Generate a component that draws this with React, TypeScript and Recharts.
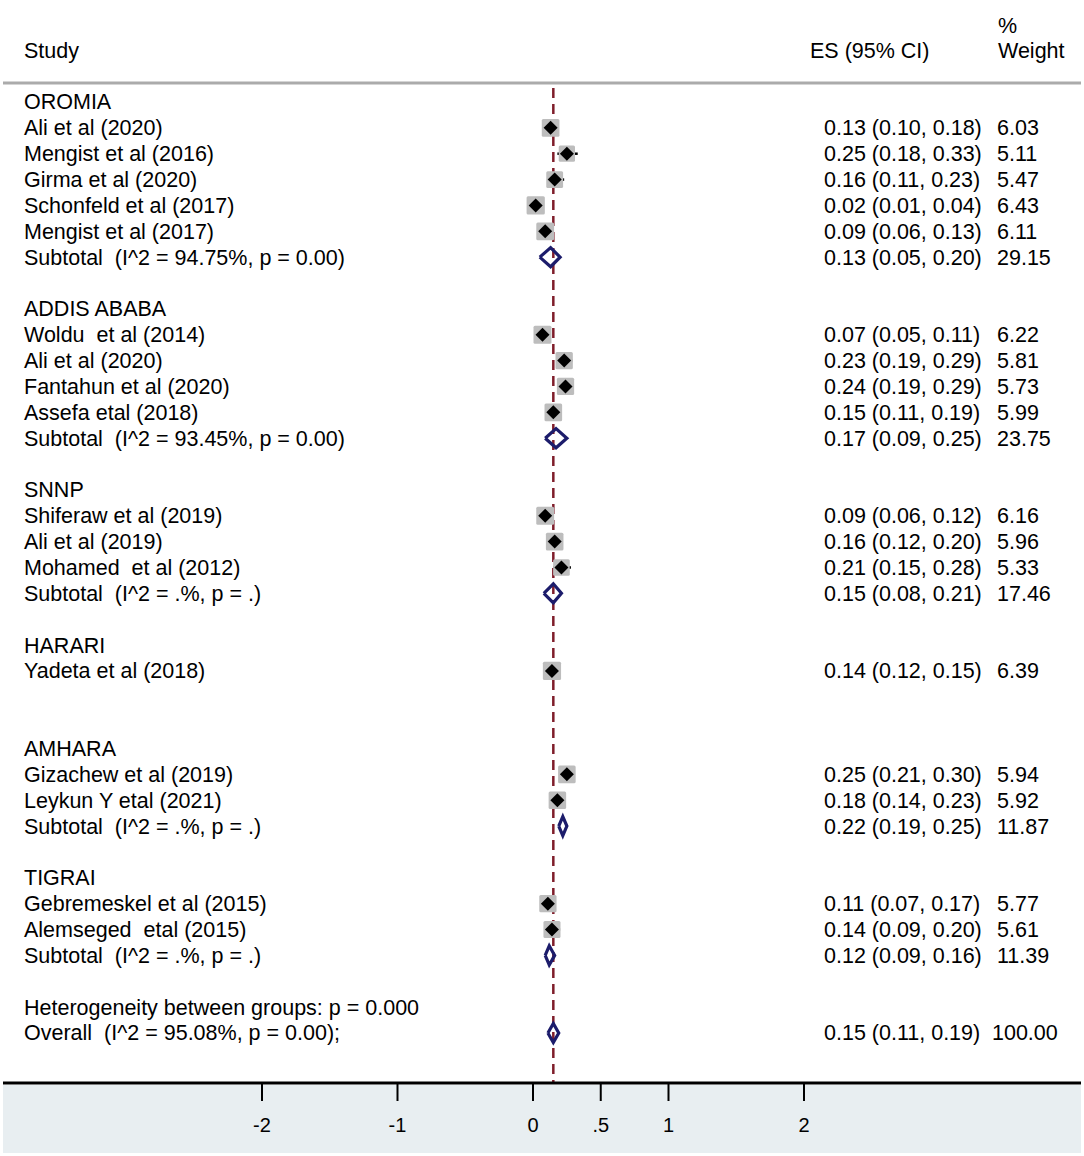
import React from 'react';
import { ComposedChart, Scatter, XAxis, YAxis, ErrorBar, ReferenceLine } from 'recharts';

const FONT = '"Liberation Sans", Arial, Helvetica, sans-serif';
const NAVY = '#1c1c6b';
const MAROON = '#7f1d2a';

// ---- data ----
const groupNames = ['OROMIA', 'ADDIS ABABA', 'SNNP', 'HARARI', 'AMHARA', 'TIGRAI'];

const studyNames = [
  'Ali et al (2020)', 'Mengist et al (2016)', 'Girma et al (2020)', 'Schonfeld et al (2017)', 'Mengist et al (2017)',
  'Woldu  et al (2014)', 'Ali et al (2020)', 'Fantahun et al (2020)', 'Assefa etal (2018)',
  'Shiferaw et al (2019)', 'Ali et al (2019)', 'Mohamed  et al (2012)',
  'Yadeta et al (2018)',
  'Gizachew et al (2019)', 'Leykun Y etal (2021)',
  'Gebremeskel et al (2015)', 'Alemseged  etal (2015)',
];
const studyGroup = [0, 0, 0, 0, 0, 1, 1, 1, 1, 2, 2, 2, 3, 4, 4, 5, 5];
const studyES = [0.13, 0.25, 0.16, 0.02, 0.09, 0.07, 0.23, 0.24, 0.15, 0.09, 0.16, 0.21, 0.14, 0.25, 0.18, 0.11, 0.14];
const studyLo = [0.10, 0.18, 0.11, 0.01, 0.06, 0.05, 0.19, 0.19, 0.11, 0.06, 0.12, 0.15, 0.12, 0.21, 0.14, 0.07, 0.09];
const studyHi = [0.18, 0.33, 0.23, 0.04, 0.13, 0.11, 0.29, 0.29, 0.19, 0.12, 0.20, 0.28, 0.15, 0.30, 0.23, 0.17, 0.20];
const studyWeight = [6.03, 5.11, 5.47, 6.43, 6.11, 6.22, 5.81, 5.73, 5.99, 6.16, 5.96, 5.33, 6.39, 5.94, 5.92, 5.77, 5.61];

const subtotalLabels = [
  'Subtotal  (I^2 = 94.75%, p = 0.00)',
  'Subtotal  (I^2 = 93.45%, p = 0.00)',
  'Subtotal  (I^2 = .%, p = .)',
  null,
  'Subtotal  (I^2 = .%, p = .)',
  'Subtotal  (I^2 = .%, p = .)',
];
const subtotalES = [0.13, 0.17, 0.15, null, 0.22, 0.12];
const subtotalLo = [0.05, 0.09, 0.08, null, 0.19, 0.09];
const subtotalHi = [0.20, 0.25, 0.21, null, 0.25, 0.16];
const subtotalWeight = [29.15, 23.75, 17.46, null, 11.87, 11.39];

const heterogeneityText = 'Heterogeneity between groups: p = 0.000';
const overallLabel = 'Overall  (I^2 = 95.08%, p = 0.00);';
const overallES = 0.15;
const overallLo = 0.11;
const overallHi = 0.19;
const overallWeight = 100.0;

const xTicks = [-2, -1, 0, 0.5, 1, 2];

// ---- layout (not data) ----
const X_DOMAIN: [number, number] = [-3.9114, 4.0443];
const Y_DOMAIN: [number, number] = [-0.944, 40.935];
const DIAMOND_HALF = 0.37;
const SEPARATOR_ROW = 2.265;
const DASH_TOP_ROW = 2.46;

type Row = { kind: string; label: string; es?: number; lo?: number; hi?: number; w?: number };

const rows: Row[] = [];
rows.push({ kind: 'pct', label: '' });
rows.push({ kind: 'header', label: 'Study' });
rows.push({ kind: 'blank', label: '' });
groupNames.forEach((g, gi) => {
  rows.push({ kind: 'group', label: g });
  studyGroup.forEach((sg, si) => {
    if (sg === gi)
      rows.push({ kind: 'study', label: studyNames[si], es: studyES[si], lo: studyLo[si], hi: studyHi[si], w: studyWeight[si] });
  });
  const sl = subtotalLabels[gi];
  if (sl) {
    rows.push({ kind: 'subtotal', label: sl, es: subtotalES[gi] as number, lo: subtotalLo[gi] as number, hi: subtotalHi[gi] as number, w: subtotalWeight[gi] as number });
  } else {
    rows.push({ kind: 'blank', label: '' });
  }
  rows.push({ kind: 'blank', label: '' });
});
rows.push({ kind: 'text', label: heterogeneityText });
rows.push({ kind: 'overall', label: overallLabel, es: overallES, lo: overallLo, hi: overallHi, w: overallWeight });

const studyPoints = rows
  .map((r, i) => ({ r, i }))
  .filter(({ r }) => r.kind === 'study')
  .map(({ r, i }) => ({ x: r.es as number, y: i, w: r.w as number, errX: [(r.es as number) - (r.lo as number), (r.hi as number) - (r.es as number)] }));

const diamonds = rows
  .map((r, i) => ({ r, i }))
  .filter(({ r }) => r.kind === 'subtotal' || r.kind === 'overall')
  .map(({ r, i }) => [
    { x: r.lo as number, y: i },
    { x: r.es as number, y: i - DIAMOND_HALF },
    { x: r.hi as number, y: i },
    { x: r.es as number, y: i + DIAMOND_HALF },
    { x: r.lo as number, y: i },
  ]);

const txt = (x: number, y: number, s: string, key: string) => (
  <text key={key} x={x} y={y} fontFamily={FONT} fontSize={21.5} fill="#000" style={{ whiteSpace: 'pre' }}>
    {s}
  </text>
);

const RowTick = (props: any) => {
  const { y, payload } = props;
  const r = rows[payload?.value];
  if (!r) return <g />;
  const base = y + 7.5;
  const out: any[] = [];
  if (r.kind === 'pct') out.push(txt(998, base + 1.5, '%', 'p'));
  if (r.kind === 'header') {
    out.push(txt(24, base, 'Study', 's'));
    out.push(txt(810, base, 'ES (95% CI)', 'e'));
    out.push(txt(998, base, 'Weight', 'w'));
  }
  if (r.kind !== 'pct' && r.kind !== 'header' && r.label) out.push(txt(24, base, r.label, 'l'));
  if (r.es !== undefined) {
    out.push(txt(824, base, `${r.es.toFixed(2)} (${(r.lo as number).toFixed(2)}, ${(r.hi as number).toFixed(2)})`, 'es'));
    out.push(txt(r.kind === 'overall' ? 992 : 997, base, (r.w as number).toFixed(2), 'wt'));
  }
  return <g>{out}</g>;
};

const StudyShape = (props: any) => {
  const { cx, cy, payload } = props;
  const s = 7.2 * Math.sqrt(payload.w);
  const d = 7;
  return (
    <g>
      <rect x={cx - s / 2} y={cy - s / 2} width={s} height={s} fill="#bdbdbd" rx={1.5} />
      <polygon points={`${cx - d},${cy} ${cx},${cy - d} ${cx + d},${cy} ${cx},${cy + d}`} fill="#000" />
    </g>
  );
};

const NoShape = () => <g />;

export default function App() {
  return (
    <div style={{ position: 'absolute', left: 0, top: 0, width: 1084, height: 1156, background: '#fff' }}>
      <div style={{ position: 'absolute', left: 3, top: 1085, width: 1078, height: 68, background: '#e8eef1' }} />
      <div style={{ position: 'absolute', left: 0, top: 0 }}>
        <ComposedChart width={1084} height={1156} margin={{ top: 0, right: 3, left: 2, bottom: 0 }}>
          <XAxis
            dataKey="x"
            type="number"
            domain={X_DOMAIN}
            allowDataOverflow
            ticks={xTicks}
            interval={0}
            tickFormatter={(v: number) => (v === 0.5 ? '.5' : String(v))}
            height={73}
            tickSize={18}
            tickMargin={17}
            axisLine={{ stroke: '#000', strokeWidth: 3 }}
            tickLine={{ stroke: '#000', strokeWidth: 2 }}
            tick={{ fill: '#000', fontSize: 20, fontFamily: FONT }}
          />
          <YAxis
            dataKey="y"
            type="number"
            domain={Y_DOMAIN}
            allowDataOverflow
            reversed
            width={1}
            ticks={rows.map((_, i) => i)}
            interval={0}
            axisLine={false}
            tickLine={false}
            tick={RowTick}
          />
          <ReferenceLine y={SEPARATOR_ROW} stroke="#ababab" strokeWidth={3} ifOverflow="visible" />
          <ReferenceLine
            segment={[{ x: overallES, y: DASH_TOP_ROW }, { x: overallES, y: Y_DOMAIN[1] }]}
            stroke={MAROON}
            strokeWidth={2.5}
            strokeDasharray="10 6"
            ifOverflow="visible"
          />
          <Scatter data={studyPoints} shape={StudyShape} isAnimationActive={false}>
            <ErrorBar dataKey="errX" direction="x" width={0} stroke="#000" strokeWidth={2.5} isAnimationActive={false} />
          </Scatter>
          {diamonds.map((d, k) => (
            <Scatter
              key={`d${k}`}
              data={d}
              shape={NoShape}
              line={{ stroke: NAVY, strokeWidth: 3.2 }}
              lineJoint="linear"
              isAnimationActive={false}
            />
          ))}
        </ComposedChart>
      </div>
    </div>
  );
}
